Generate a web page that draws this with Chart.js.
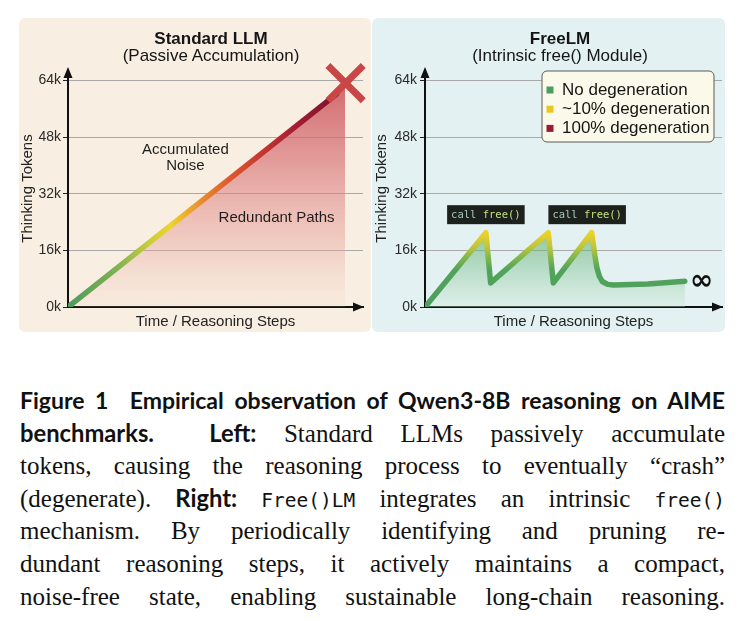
<!DOCTYPE html>
<html>
<head>
<meta charset="utf-8">
<script src="https://cdn.jsdelivr.net/npm/chart.js@4.4.0/dist/chart.umd.min.js"></script>
<style>
  html, body { margin: 0; padding: 0; background: #fff; }
  #page { position: relative; width: 745px; height: 629px; overflow: hidden; font-family: "Liberation Sans", Arial, sans-serif; }
  .panel { position: absolute; top: 18px; height: 314px; border-radius: 6px; }
  #leftPanel { left: 19px; width: 352px; background: #f9eee2; }
  #rightPanel { left: 372px; width: 353px; background: #e4f1f2; }
  .panel canvas { position: absolute; left: 0; top: 0; }
  .ptitle { position: absolute; top: 12px; width: 300px; text-align: center; font-size: 17px; line-height: 17px; color: #151515; }
  .ptitle b { display: block; }
  #caption { position: absolute; left: 20px; top: 384px; width: 705px; color: #111;
    font-family: "Liberation Serif", "DejaVu Serif", "Open Sans", sans-serif; font-size: 22px; }
  .ln { height: 32.8px; line-height: 32.8px; text-align: justify; text-align-last: justify; overflow: hidden; }
  .sans { font-family: Lato, "Liberation Sans", sans-serif; font-weight: 700; font-size: 0.95em; }
  .tt { font-family: "DejaVu Sans Mono", "Liberation Mono", monospace; font-size: 0.78em; }
  #ln1 { font-size: 22px; }
</style>
</head>
<body>
<div id="page">
  <div class="panel" id="leftPanel">
    <canvas id="stdChart" width="352" height="314"></canvas>
    <div class="ptitle" style="left:42px"><b>Standard LLM</b>(Passive Accumulation)</div>
  </div>
  <div class="panel" id="rightPanel">
    <canvas id="freeChart" width="353" height="314"></canvas>
    <div class="ptitle" style="left:38px"><b>FreeLM</b>(Intrinsic free() Module)</div>
  </div>
  <div id="caption">
    <div class="ln" id="ln1"><span class="sans" style="font-size:1em">Figure 1&nbsp; Empirical observation of Qwen3-8B reasoning on AIME</span></div>
    <div class="ln body"><span class="sans">benchmarks.</span>&nbsp; <span class="sans">Left:</span> Standard LLMs passively accumulate</div>
    <div class="ln body">tokens, causing the reasoning process to eventually “crash”</div>
    <div class="ln body">(degenerate). <span class="sans">Right:</span> <span class="tt">Free()LM</span> integrates an intrinsic <span class="tt">free()</span></div>
    <div class="ln body">mechanism. By periodically identifying and pruning re-</div>
    <div class="ln body">dundant reasoning steps, it actively maintains a compact,</div>
    <div class="ln body">noise-free state, enabling sustainable long-chain reasoning.</div>
  </div>
</div>
<script>
// ---- data ----
const yTickValues = [0, 16000, 32000, 48000, 64000];

// left: standard LLM keeps piling up tokens until it crashes
const stdSteps = [0, 91];
const stdTokens = [0, 60200];
const stdAreaSteps = [0, 93.9];
const stdAreaTokens = [0, 62000];
const crashSteps = [94.1];
const crashTokens = [63300];

// right: FreeLM prunes at every free() call
const freeSteps = [0, 20.5, 22.1, 41.5, 43.2, 56.1, 57.2, 57.9, 58.7, 59.7, 61.5, 63.5, 75, 87.5];
const freeTokens = [0, 21000, 6800, 21000, 6800, 21000, 14500, 11000, 8700, 7200, 6400, 6200, 6500, 7300];

const legendLabels = ['No degeneration', '~10% degeneration', '100% degeneration'];
const legendColors = ['#4c9e5e', '#e8c820', '#9c1a35'];

const stdNotes = [
  { text: 'Accumulated', x: 39.8, y: 44400 },
  { text: 'Noise', x: 39.8, y: 39800 },
  { text: 'Redundant Paths', x: 70.7, y: 25100 }
];
const callFreeAt = [20.5, 54.6];

Chart.defaults.font.family = "'Liberation Sans', Arial, sans-serif";
Chart.defaults.color = '#222';

const toPoints = (xs, ys) => xs.map((x, i) => ({ x: x, y: ys[i] }));

function scalesFor(yWidth, yTitlePad, yTickPad) {
  return {
    x: {
      type: 'linear', min: 0, max: 100,
      grid: { display: false },
      ticks: { display: false },
      border: { color: '#111', width: 2 },
      title: { display: true, text: 'Time / Reasoning Steps', font: { size: 15 }, color: '#222', padding: { top: 0, bottom: 1 } },
      afterFit: (s) => { s.height = 25; }
    },
    y: {
      min: 0, max: 67000,
      afterBuildTicks: (s) => { s.ticks = yTickValues.map(v => ({ value: v })); },
      grid: { color: '#a9a9a9', lineWidth: 1, tickLength: 5, tickColor: '#222' },
      border: { color: '#111', width: 2 },
      ticks: { font: { size: 14 }, color: '#2a2a2a', padding: yTickPad, callback: (v) => (v / 1000) + 'k' },
      title: { display: true, text: 'Thinking Tokens', font: { size: 15 }, color: '#222', padding: { top: yTitlePad, bottom: 0 } },
      afterFit: (s) => { s.width = yWidth; }
    }
  };
}

// arrow heads on both axes
const axisArrows = {
  id: 'axisArrows',
  afterDraw(chart) {
    const { ctx, chartArea: a } = chart;
    ctx.save();
    ctx.fillStyle = '#111';
    ctx.beginPath();
    ctx.moveTo(a.left, a.top - 3);
    ctx.lineTo(a.left - 4.5, a.top + 8);
    ctx.lineTo(a.left + 4.5, a.top + 8);
    ctx.closePath();
    ctx.fill();
    ctx.beginPath();
    ctx.moveTo(a.right + 1, a.bottom);
    ctx.lineTo(a.right - 10, a.bottom - 4.5);
    ctx.lineTo(a.right - 10, a.bottom + 4.5);
    ctx.closePath();
    ctx.fill();
    ctx.restore();
  }
};

function stdStroke(context) {
  const chart = context.chart;
  if (!chart.chartArea) return '#b03030';
  const xs = chart.scales.x;
  const g = chart.ctx.createLinearGradient(xs.getPixelForValue(0), 0, xs.getPixelForValue(stdSteps[stdSteps.length - 1]), 0);
  g.addColorStop(0, '#4e9b5e');
  g.addColorStop(0.18, '#7fb153');
  g.addColorStop(0.3, '#c7cd3a');
  g.addColorStop(0.38, '#ecd42e');
  g.addColorStop(0.5, '#e88a30');
  g.addColorStop(0.6, '#dc5a2e');
  g.addColorStop(0.72, '#c8372f');
  g.addColorStop(0.86, '#a01c33');
  g.addColorStop(1, '#7c1230');
  return g;
}

function stdFill(context) {
  const chart = context.chart;
  if (!chart.chartArea) return 'rgba(214,110,114,0.5)';
  const ys = chart.scales.y;
  const g = chart.ctx.createLinearGradient(0, ys.getPixelForValue(64000), 0, ys.getPixelForValue(0));
  g.addColorStop(0, 'rgba(204, 84, 92, 0.88)');
  g.addColorStop(0.35, 'rgba(214, 112, 116, 0.66)');
  g.addColorStop(0.7, 'rgba(228, 152, 146, 0.42)');
  g.addColorStop(1, 'rgba(242, 205, 190, 0.12)');
  return g;
}

const stdNotesPlugin = {
  id: 'stdNotes',
  afterDatasetsDraw(chart) {
    const { ctx, scales: { x, y } } = chart;
    ctx.save();
    ctx.font = "15px 'Liberation Sans', Arial, sans-serif";
    ctx.fillStyle = '#1e1e1e';
    ctx.textAlign = 'center';
    ctx.textBaseline = 'middle';
    stdNotes.forEach(n => ctx.fillText(n.text, x.getPixelForValue(n.x), y.getPixelForValue(n.y)));
    ctx.restore();
  }
};

new Chart(document.getElementById('stdChart'), {
  type: 'line',
  data: {
    datasets: [
      {
        label: 'crash',
        data: toPoints(crashSteps, crashTokens),
        showLine: false,
        pointStyle: 'crossRot',
        pointRadius: 25,
        pointBorderWidth: 7,
        pointBorderColor: '#c84646',
        clip: false
      },
      {
        label: 'tokens',
        data: toPoints(stdSteps, stdTokens),
        borderColor: stdStroke,
        borderWidth: 5.5,
        borderCapStyle: 'round',
        pointRadius: 0,
        fill: false
      },
      {
        label: 'redundant',
        data: toPoints(stdAreaSteps, stdAreaTokens),
        borderWidth: 0,
        pointRadius: 0,
        backgroundColor: stdFill,
        fill: 'origin'
      }
    ]
  },
  options: {
    responsive: false,
    animation: false,
    layout: { autoPadding: false, padding: { top: 52, right: 8, left: 0, bottom: 0 } },
    plugins: { legend: { display: false }, tooltip: { enabled: false } },
    scales: scalesFor(49, 0, 2)
  },
  plugins: [axisArrows, stdNotesPlugin]
});

function freeStroke(context) {
  const chart = context.chart;
  if (!chart.chartArea) return '#4c9e5e';
  const ys = chart.scales.y;
  const g = chart.ctx.createLinearGradient(0, ys.getPixelForValue(0), 0, ys.getPixelForValue(21000));
  g.addColorStop(0, '#4c9e5e');
  g.addColorStop(0.5, '#52a35a');
  g.addColorStop(0.66, '#7fb64d');
  g.addColorStop(0.82, '#c3c63a');
  g.addColorStop(1, '#ecd12a');
  return g;
}

function freeFill(context) {
  const chart = context.chart;
  if (!chart.chartArea) return 'rgba(110,185,125,0.45)';
  const ys = chart.scales.y;
  const g = chart.ctx.createLinearGradient(0, ys.getPixelForValue(21000), 0, ys.getPixelForValue(0));
  g.addColorStop(0, 'rgba(88, 170, 105, 0.62)');
  g.addColorStop(0.5, 'rgba(125, 192, 140, 0.42)');
  g.addColorStop(1, 'rgba(205, 234, 215, 0.35)');
  return g;
}

const freeDecor = {
  id: 'freeDecor',
  afterDraw(chart) {
    const { ctx, chartArea: a, scales: { x, y } } = chart;
    ctx.save();
    // call free() tags above the peaks
    ctx.font = "10.5px 'DejaVu Sans Mono', monospace";
    ctx.textBaseline = 'middle';
    ctx.textAlign = 'left';
    const w1 = ctx.measureText('call ').width;
    const w2 = ctx.measureText('free()').width;
    const bw = w1 + w2 + 8, bh = 19;
    callFreeAt.forEach(v => {
      const cx = x.getPixelForValue(v);
      const cy = y.getPixelForValue(26100);
      ctx.fillStyle = '#1c211e';
      ctx.fillRect(cx - bw / 2, cy - bh / 2, bw, bh);
      ctx.fillStyle = '#a6c4bc';
      ctx.fillText('call ', cx - bw / 2 + 4, cy + 0.5);
      ctx.fillStyle = '#c4e07c';
      ctx.fillText('free()', cx - bw / 2 + 4 + w1, cy + 0.5);
    });
    // infinity at the end of the curve
    ctx.font = "bold 28px 'DejaVu Sans', sans-serif";
    ctx.fillStyle = '#111';
    ctx.textAlign = 'center';
    ctx.fillText('∞', x.getPixelForValue(93.1), y.getPixelForValue(7100));
    // legend box
    const lw = 172, lh = 71;
    const lx = a.right - 8 - lw, ly = a.top + 1;
    ctx.beginPath();
    ctx.roundRect(lx, ly, lw, lh, 5);
    ctx.fillStyle = '#fbfaea';
    ctx.fill();
    ctx.lineWidth = 1;
    ctx.strokeStyle = '#5a5a5a';
    ctx.stroke();
    ctx.font = "17px 'Liberation Sans', Arial, sans-serif";
    ctx.textAlign = 'left';
    legendLabels.forEach((t, i) => {
      const ry = ly + 19 + i * 19.2;
      ctx.fillStyle = legendColors[i];
      ctx.fillRect(lx + 4.5, ry - 3.5, 7, 7);
      ctx.fillStyle = '#151515';
      ctx.fillText(t, lx + 20, ry);
    });
    ctx.restore();
  }
};

new Chart(document.getElementById('freeChart'), {
  type: 'line',
  data: {
    datasets: [{
      label: 'tokens',
      data: toPoints(freeSteps, freeTokens),
      borderColor: freeStroke,
      backgroundColor: freeFill,
      borderWidth: 5.5,
      borderJoinStyle: 'round',
      borderCapStyle: 'round',
      pointRadius: 0,
      tension: 0,
      fill: 'origin'
    }]
  },
  options: {
    responsive: false,
    animation: false,
    layout: { autoPadding: false, padding: { top: 52, right: 3, left: 0, bottom: 0 } },
    plugins: { legend: { display: false }, tooltip: { enabled: false } },
    scales: scalesFor(53, 1, 3)
  },
  plugins: [axisArrows, freeDecor]
});

// caption: one font size for the body lines, as large as still fits on one row each
function naturalWidth(ln) {
  ln.style.display = 'inline-block';
  ln.style.whiteSpace = 'nowrap';
  const w = ln.getBoundingClientRect().width;
  ln.style.display = '';
  ln.style.whiteSpace = '';
  return w;
}
const bodyLines = Array.from(document.querySelectorAll('#caption .body'));
let bodySize = 25;
const applySize = (s) => bodyLines.forEach(ln => { ln.style.fontSize = s + 'px'; });
applySize(bodySize);
while (bodyLines.some(ln => naturalWidth(ln) > 700) && bodySize > 12) {
  bodySize -= 0.25;
  applySize(bodySize);
}
const ln1 = document.getElementById('ln1');
let s1 = 23;
ln1.style.fontSize = s1 + 'px';
while (naturalWidth(ln1) > 703 && s1 > 12) {
  s1 -= 0.25;
  ln1.style.fontSize = s1 + 'px';
}
</script>
</body>
</html>
